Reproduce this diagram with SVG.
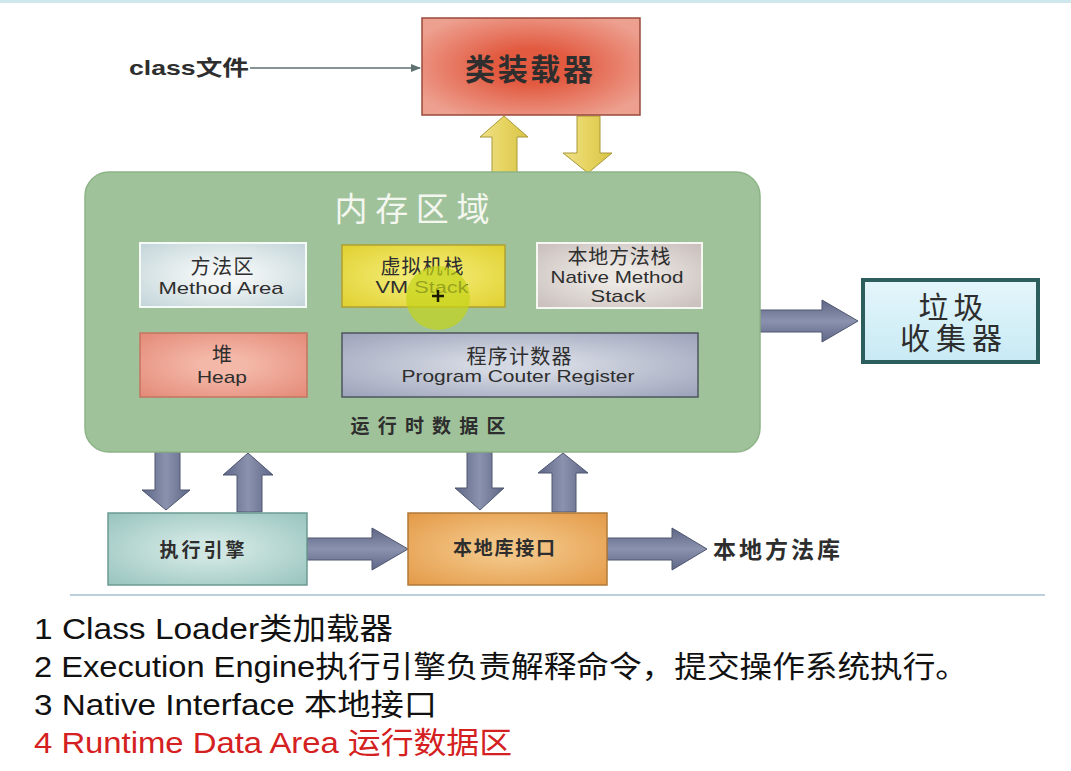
<svg xmlns="http://www.w3.org/2000/svg" width="1071" height="771" viewBox="0 0 1071 771">
<defs>
<radialGradient id="gRed" cx="0.5" cy="0.5" r="0.6"><stop offset="0.3" stop-color="#e25a40"/><stop offset="1" stop-color="#eda090"/></radialGradient>
<radialGradient id="gMethod" cx="0.5" cy="0.5" r="0.7"><stop offset="0.2" stop-color="#f2f6f6"/><stop offset="1" stop-color="#c2d4d8"/></radialGradient>
<radialGradient id="gVM" cx="0.5" cy="0.5" r="0.7"><stop offset="0.2" stop-color="#f2ea70"/><stop offset="1" stop-color="#e0d030"/></radialGradient>
<radialGradient id="gNative" cx="0.5" cy="0.5" r="0.7"><stop offset="0.2" stop-color="#ece8e4"/><stop offset="1" stop-color="#c8bebb"/></radialGradient>
<radialGradient id="gHeap" cx="0.5" cy="0.5" r="0.7"><stop offset="0.2" stop-color="#f4b8a8"/><stop offset="1" stop-color="#e48a78"/></radialGradient>
<radialGradient id="gPC" cx="0.5" cy="0.5" r="0.7"><stop offset="0.2" stop-color="#d4d8e2"/><stop offset="1" stop-color="#9ca2ba"/></radialGradient>
<radialGradient id="gExec" cx="0.5" cy="0.5" r="0.7"><stop offset="0.2" stop-color="#cfe6e2"/><stop offset="1" stop-color="#98c4be"/></radialGradient>
<radialGradient id="gNI" cx="0.5" cy="0.5" r="0.7"><stop offset="0.2" stop-color="#f2c484"/><stop offset="1" stop-color="#e49a48"/></radialGradient>
<linearGradient id="gGC" x1="0" y1="0" x2="0" y2="1"><stop offset="0" stop-color="#e4f6fb"/><stop offset="1" stop-color="#c8eaf4"/></linearGradient>
<linearGradient id="gYel" x1="0" y1="0" x2="1" y2="0"><stop offset="0" stop-color="#efe08a"/><stop offset="0.5" stop-color="#e6d460"/><stop offset="1" stop-color="#d8c448"/></linearGradient>
<linearGradient id="gBlueH" x1="0" y1="0" x2="0" y2="1"><stop offset="0" stop-color="#5e6686"/><stop offset="0.5" stop-color="#8a92ae"/><stop offset="1" stop-color="#5e6686"/></linearGradient>
<linearGradient id="gBlueV" x1="0" y1="0" x2="1" y2="0"><stop offset="0" stop-color="#5e6686"/><stop offset="0.5" stop-color="#8a92ae"/><stop offset="1" stop-color="#5e6686"/></linearGradient>
<marker id="thin" viewBox="0 0 10 10" refX="9" refY="5" markerWidth="7" markerHeight="7" orient="auto"><path d="M0,1 L10,5 L0,9 z" fill="#5f7070"/></marker>
</defs>
<style>
.cn{font-family:"Liberation Sans","Noto Sans CJK SC",sans-serif;fill:#2e2e2e;}
.b{font-weight:bold;}
.list{font-family:"Liberation Sans","Noto Sans CJK SC",sans-serif;font-size:30px;fill:#111;}
.red{fill:#d42020;}
.yel{fill:url(#gYel);stroke:#a89838;stroke-width:1;}
.blh{fill:url(#gBlueH);stroke:#4e5670;stroke-width:1;}
.blv{fill:url(#gBlueV);stroke:#4e5670;stroke-width:1;}
</style>
<rect width="1071" height="771" fill="#ffffff"/>
<line x1="0" y1="1.5" x2="1071" y2="1.5" stroke="#cfe8ee" stroke-width="3"/>
<line x1="70" y1="595" x2="1045" y2="595" stroke="#bccfdc" stroke-width="2"/>

<g id="connectors">
<line x1="250" y1="68" x2="420" y2="68" stroke="#5f7070" stroke-width="1.5" marker-end="url(#thin)"/>
<polygon class="yel" points="504,116 528,137 517,137 517,173 492,173 492,137 480,137"/>
<polygon class="yel" points="577,116 600,116 600,153 612,153 588,173 563,153 577,153"/>
<polygon class="blv" points="155,452 180,452 180,490 190,490 166,510 142,490 155,490"/>
<polygon class="blv" points="248,453 273,475 262,475 262,512 237,512 237,475 223,475"/>
<polygon class="blv" points="467,452 492,452 492,488 504,488 480,510 455,488 467,488"/>
<polygon class="blv" points="563,453 588,473 576,473 576,512 552,512 552,473 538,473"/>
<polygon class="blh" points="760,310 822,310 822,300 858,321 822,342 822,332 760,332"/>
<polygon class="blh" points="307,538 372,538 372,528 408,549 372,570 372,560 307,560"/>
<polygon class="blh" points="607,538 672,538 672,528 707,549 672,570 672,560 607,560"/>
</g>

<g id="class-file">
<text class="cn b" x="129" y="75" font-size="21" textLength="120" lengthAdjust="spacingAndGlyphs" fill="#222">class文件</text>
</g>

<g id="class-loader">
<rect x="422" y="18" width="218" height="97" fill="url(#gRed)" stroke="#9a4a3a" stroke-width="1.5"/>
<text class="cn b" x="529" y="69" font-size="30" text-anchor="middle" dominant-baseline="central" textLength="128" lengthAdjust="spacing" fill="#3a1e1e">类装载器</text>
</g>

<g id="memory-area">
<rect x="85" y="172" width="675" height="280" rx="24" fill="#9fc29a" stroke="#8db487" stroke-width="1.5"/>
<text x="412" y="207" font-family="'Noto Sans CJK SC',serif" font-size="33" text-anchor="middle" dominant-baseline="central" textLength="155" lengthAdjust="spacing" fill="#f4f6f0">内存区域</text>
<text class="cn b" x="428" y="426" font-size="19" text-anchor="middle" dominant-baseline="central" textLength="155" lengthAdjust="spacing" fill="#f2f6ee">运行时数据区</text>
</g>

<g id="method-area">
<rect x="140" y="243" width="166" height="64" fill="url(#gMethod)" stroke="#f6faf6" stroke-width="2"/>
<text class="cn" x="222" y="267" font-size="20" text-anchor="middle" dominant-baseline="central" textLength="63" lengthAdjust="spacing">方法区</text>
<text class="cn" x="221" y="288" font-size="17" text-anchor="middle" dominant-baseline="central" textLength="125" lengthAdjust="spacingAndGlyphs">Method Area</text>
</g>

<g id="vm-stack">
<rect x="342" y="245" width="163" height="62" fill="url(#gVM)" stroke="#b0a030" stroke-width="1.5"/>
<text class="cn" x="422" y="267" font-size="20" text-anchor="middle" dominant-baseline="central" textLength="83" lengthAdjust="spacing">虚拟机栈</text>
<text class="cn" x="422" y="287" font-size="17" text-anchor="middle" dominant-baseline="central" textLength="93" lengthAdjust="spacingAndGlyphs">VM Stack</text>
</g>

<g id="native-method-stack">
<rect x="537" y="243" width="165" height="65" fill="url(#gNative)" stroke="#f6f6f2" stroke-width="2"/>
<text class="cn" x="619" y="257" font-size="20" text-anchor="middle" dominant-baseline="central" textLength="103" lengthAdjust="spacing">本地方法栈</text>
<text class="cn" x="617" y="277" font-size="17" text-anchor="middle" dominant-baseline="central" textLength="133" lengthAdjust="spacingAndGlyphs">Native Method</text>
<text class="cn" x="618" y="296" font-size="17" text-anchor="middle" dominant-baseline="central" textLength="55" lengthAdjust="spacingAndGlyphs">Stack</text>
</g>

<g id="heap">
<rect x="140" y="333" width="167" height="64" fill="url(#gHeap)" stroke="#c47462" stroke-width="1.5"/>
<text class="cn" x="222" y="355" font-size="20" text-anchor="middle" dominant-baseline="central">堆</text>
<text class="cn" x="222" y="377" font-size="17" text-anchor="middle" dominant-baseline="central" textLength="50" lengthAdjust="spacingAndGlyphs">Heap</text>
</g>

<g id="program-counter">
<rect x="342" y="333" width="356" height="64" fill="url(#gPC)" stroke="#4e565e" stroke-width="1.5"/>
<text class="cn" x="519" y="357" font-size="20" text-anchor="middle" dominant-baseline="central" textLength="105" lengthAdjust="spacing">程序计数器</text>
<text class="cn" x="518" y="376" font-size="17" text-anchor="middle" dominant-baseline="central" textLength="233" lengthAdjust="spacingAndGlyphs">Program Couter Register</text>
</g>

<g id="cursor">
<circle cx="438" cy="298" r="32" fill="#c4d418" opacity="0.7"/>
<path d="M432,296 H444 M438,290 V302" stroke="#1a1a00" stroke-width="2.5"/>
</g>

<g id="garbage-collector">
<rect x="863" y="280" width="175" height="82" fill="url(#gGC)" stroke="#2c5e5e" stroke-width="4"/>
<text class="cn" x="951" y="307" font-size="30" text-anchor="middle" dominant-baseline="central" textLength="65" lengthAdjust="spacing" fill="#333">垃圾</text>
<text class="cn" x="951" y="338" font-size="30" text-anchor="middle" dominant-baseline="central" textLength="102" lengthAdjust="spacing" fill="#333">收集器</text>
</g>

<g id="execution-engine">
<rect x="108" y="513" width="199" height="72" fill="url(#gExec)" stroke="#6c9a92" stroke-width="1.5"/>
<text class="cn b" x="202" y="550" font-size="19" text-anchor="middle" dominant-baseline="central" textLength="85" lengthAdjust="spacing">执行引擎</text>
</g>

<g id="native-interface">
<rect x="408" y="513" width="199" height="72" fill="url(#gNI)" stroke="#b07a38" stroke-width="1.5"/>
<text class="cn b" x="504" y="548" font-size="19" text-anchor="middle" dominant-baseline="central" textLength="102" lengthAdjust="spacing">本地库接口</text>
</g>

<g id="native-library">
<text class="cn b" x="713" y="550" font-size="23" dominant-baseline="central" textLength="127" lengthAdjust="spacing" fill="#1e1e1e">本地方法库</text>
</g>

<g id="notes">
<text class="list" x="34" y="639" textLength="359" lengthAdjust="spacingAndGlyphs">1 Class Loader类加载器</text>
<text class="list" x="34" y="677" textLength="934" lengthAdjust="spacingAndGlyphs">2 Execution Engine执行引擎负责解释命令，提交操作系统执行。</text>
<text class="list" x="34" y="715" textLength="403" lengthAdjust="spacingAndGlyphs">3 Native Interface 本地接口</text>
<text class="list red" x="34" y="753" textLength="478" lengthAdjust="spacingAndGlyphs">4 Runtime Data Area 运行数据区</text>
</g>
</svg>
